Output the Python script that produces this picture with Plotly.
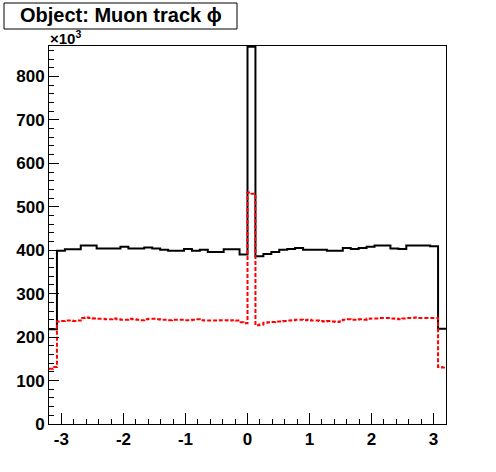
import numpy as np
import plotly.graph_objects as go

# Histogram definitions (phi range and bin counts)
X_MIN, X_MAX = -3.2, 3.2
N_BLACK, N_RED = 50, 100

# Black histogram: entries per bin, in units of 10^3
black_counts = [
    218, 399, 402, 402, 411, 411, 404, 404, 404, 408,
    404, 404, 406, 404, 401, 399, 399, 403, 399, 401,
    396, 396, 402, 402, 390, 868, 386, 391, 396, 401,
    403, 405, 401, 401, 401, 399, 399, 405, 403, 405,
    408, 411, 411, 404, 403, 411, 411, 411, 409, 219,
]

# Red (dashed) histogram: entries per bin, in units of 10^3
red_counts = [
    127, 131, 236, 237, 238, 238, 237, 238, 244, 245,
    244, 243, 242, 242, 241, 241, 243, 241, 240, 240,
    242, 241, 240, 239, 241, 242, 242, 241, 240, 240,
    239, 240, 240, 240, 239, 239, 240, 241, 239, 238,
    238, 238, 238, 239, 239, 238, 239, 238, 234, 232,
    533, 530, 227, 229, 233, 234, 235, 236, 236, 237,
    238, 239, 240, 240, 239, 240, 238, 238, 237, 236,
    237, 236, 235, 236, 240, 241, 240, 240, 241, 240,
    242, 243, 243, 244, 244, 244, 243, 242, 241, 243,
    244, 244, 245, 244, 244, 244, 244, 244, 131, 130,
]

x_tick_vals = [-3, -2, -1, 0, 1, 2, 3]
x_tick_text = ["-3", "-2", "-1", "0", "1", "2", "3"]
y_tick_vals = [0, 100, 200, 300, 400, 500, 600, 700, 800]
y_tick_text = ["0", "100", "200", "300", "400", "500", "600", "700", "800"]

title_text = "Object: Muon track \u03d5"


def step_xy(counts, nbins):
    edges = np.linspace(X_MIN, X_MAX, nbins + 1)
    xs = list(edges)
    ys = list(counts) + [counts[-1]]
    return xs, ys


bx, by = step_xy(black_counts, N_BLACK)
rx, ry = step_xy(red_counts, N_RED)

fig = go.Figure()
fig.add_trace(go.Scatter(x=bx, y=by, mode="lines", line_shape="hv",
                         line=dict(color="black", width=2), showlegend=False,
                         hoverinfo="skip"))
fig.add_trace(go.Scatter(x=rx, y=ry, mode="lines", line_shape="hv",
                         line=dict(color="#ff0000", width=2, dash="4px,2px"),
                         showlegend=False, hoverinfo="skip"))

FONT = "Liberation Sans, Arial, Helvetica, sans-serif"
tickfont = dict(family=FONT, size=17, color="black", weight="bold")

fig.update_layout(
    width=496, height=472,
    margin=dict(l=49, r=50, t=46, b=48),
    paper_bgcolor="white", plot_bgcolor="white",
    showlegend=False,
    xaxis=dict(range=[X_MIN, X_MAX], showgrid=False, zeroline=False,
               showline=True, linecolor="black", linewidth=1, mirror=True,
               ticks="inside", ticklen=11, tickwidth=1, tickcolor="black",
               tickvals=x_tick_vals, ticktext=x_tick_text, tickfont=tickfont,
               minor=dict(tickmode="linear", tick0=0, dtick=0.2, ticks="inside",
                          ticklen=5, tickwidth=1, tickcolor="black", showgrid=False)),
    yaxis=dict(range=[0, 870], showgrid=False, zeroline=False,
               showline=True, linecolor="black", linewidth=1, mirror=True,
               ticks="inside", ticklen=10, tickwidth=1, tickcolor="black",
               tickvals=y_tick_vals, ticktext=y_tick_text, tickfont=tickfont,
               minor=dict(tickmode="linear", tick0=0, dtick=20, ticks="inside",
                          ticklen=5, tickwidth=1, tickcolor="black", showgrid=False)),
)

# Title box (ROOT style)
fig.add_shape(type="rect", xref="paper", yref="paper",
              x0=(4 - 49) / 397, x1=(237 - 49) / 397,
              y0=(424 - 29) / 378, y1=(424 - 3) / 378,
              line=dict(color="black", width=1), fillcolor="white", layer="above")
fig.add_annotation(xref="paper", yref="paper",
                   x=(121 - 49) / 397, y=(424 - 15.5) / 378,
                   text=title_text, showarrow=False, xanchor="center", yanchor="middle",
                   borderpad=0,
                   font=dict(family=FONT, size=20, color="black", weight="bold"))
# Exponent label
fig.add_annotation(xref="paper", yref="paper",
                   x=0, y=(424 - 48) / 378,
                   text="\u00d710<sup>3</sup>", showarrow=False,
                   xanchor="left", yanchor="bottom", borderpad=0,
                   font=dict(family=FONT, size=15, color="black", weight="bold"))

fig.write_html("out.html", config={"displayModeBar": False},
               post_script="document.body.style.margin='0';document.body.style.overflow='hidden';")
